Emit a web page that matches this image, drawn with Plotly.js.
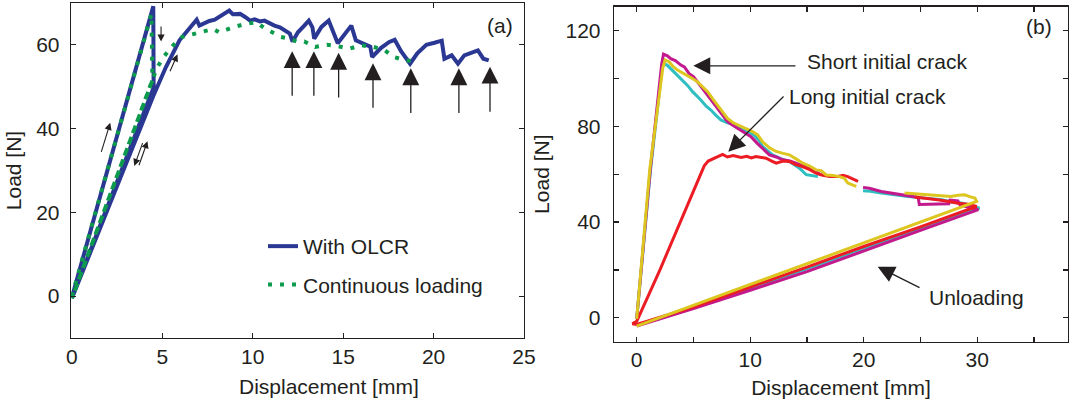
<!DOCTYPE html>
<html>
<head>
<meta charset="utf-8">
<script src="https://cdn.plot.ly/plotly-3.0.1.min.js"></script>
<style>html,body{margin:0;padding:0;background:#fff;}#chart{width:1069px;height:405px;}</style>
</head>
<body>
<div id="chart"></div>
<script>
// ---------- Panel (a) ----------
const olcrX = [0, 4.5, 4.52, 0.0, 4.5, 4.7, 5.2, 5.95, 6.5, 6.9, 7.05, 7.6, 7.9, 8.3, 8.7, 8.9, 9.3, 9.6, 9.85, 10.1, 10.4, 10.65, 10.95, 11.2, 11.5, 11.85, 12.05, 12.2, 12.5, 12.85, 13.1, 13.3, 13.4, 13.8, 14.2, 14.7, 15.1, 15.45, 15.7, 16.2, 16.5, 16.6, 17.1, 17.55, 17.85, 18.2, 18.7, 19.1, 19.6, 20.05, 20.45, 20.6, 21.0, 21.35, 21.7, 22.45, 22.75, 23.05];
const olcrY = [-0.3, 69.2, 49.8, -0.5, 47.8, 49.8, 54.7, 61.1, 63.9, 66, 64.6, 65.7, 66, 67, 68.2, 67.3, 67.4, 66.6, 65.8, 66.1, 65.6, 65.8, 65, 64.6, 64.2, 63.2, 62.7, 60.8, 63, 64.6, 65.8, 64.2, 61.5, 64.3, 65.8, 60.4, 62.8, 64.6, 61.1, 60.3, 59.6, 57.1, 59.3, 60.7, 61.2, 58.5, 55.5, 58, 60, 60.5, 61, 56.7, 57.5, 55.5, 57.5, 58.7, 56.7, 56.3];
const contX = [0, 4.4, 4.45, 0.0, 4.45, 4.7, 5.1, 5.6, 6.1, 7.0, 7.8, 8.15, 8.9, 9.6, 10.2, 10.65, 11.1, 11.55, 12.0, 12.5, 12.85, 13.45, 14.1, 14.7, 15.35, 16.0, 16.7, 17.3, 17.8, 18.45, 19.1];
const contY = [0, 67.4, 51.5, -0.5, 51, 54.5, 57.3, 59.9, 61.9, 63, 63.8, 63, 64.2, 65, 65.4, 64, 63, 61.9, 61.5, 60.7, 60.8, 59.5, 60, 59.7, 59.1, 59.9, 59.5, 58.7, 57.1, 56.3, 56.1];
// crack-growth arrows (a): x position, arrow tip load, arrow tail load
const crackArrowX = [12.18, 13.38, 14.75, 16.65, 18.74, 21.4, 23.12];
const crackArrowTip = [58.5, 58.5, 58.1, 55.6, 54.4, 54.4, 54.8];
const crackArrowTail = [47.5, 47.5, 47.1, 44.6, 43.4, 43.4, 43.7];
// small load-path arrows (a): [tailX, tailY, headX, headY]
const pathArrows = [[1.6, 34.1, 2.12, 41.4], [3.94, 36.9, 3.45, 31.1], [3.68, 30.9, 4.18, 37.0], [4.93, 64.75, 4.93, 60.8], [5.39, 53.35, 5.84, 57.75]];

// ---------- Panel (b) ----------
const magX = [0, 0.9, 1.2, 2.2, 2.36, 2.7, 3.0, 3.4, 3.89, 4.2, 4.62, 5.0, 5.36, 5.8, 6.25, 6.7, 7.13, 7.6, 8.01, 8.5, 8.9, 9.5, 10.07, 10.6, 11.2, 11.69, 12.3, 12.87, 13.5, 14.05, 14.5, 15.2, 15.7, 16.25, null, 19.94, 20.5, 21.55, 22.4, 23.3, 24.2, 24.8, 24.9, 26.2, 27.5, 27.6, 28.3, 28.5, 29.3, 30.1, 25, 20, 15, 10, 5, 0];
const magY = [-0.5, 48, 62, 106, 110.2, 109.5, 108.3, 107.5, 105.6, 104.8, 102, 100.8, 98.6, 96, 93.1, 90.5, 87.5, 84.5, 82, 80.3, 79.2, 77.5, 75.7, 73, 70.5, 68.1, 67.2, 66, 65.5, 64.6, 63.9, 62.5, 61.2, 59.7, null, 54.5, 54.1, 52.8, 52.1, 51.5, 50.7, 50.3, 47.3, 47.5, 47.6, 49.2, 48.8, 47, 46.2, 45.2, 36.5, 28, 19.3, 11.5, 3.8, -3.5];
const cyanX = [0, 0.9, 1.2, 2.2, 2.36, 2.7, 3.3, 3.7, 4.18, 4.5, 4.92, 5.3, 5.65, 6.1, 6.54, 7.0, 7.42, 8.0, 8.6, 9.2, 9.78, 10.3, 10.8, 11.1, 12.0, 12.7, 13.45, 14.0, 14.34, 14.93, 15.4, 15.96, null, 19.94, 20.6, 21.55, 22.7, 23.9, 25.4, 26.9, 27.8, 28.6, 29.4, 30.2, 25, 20, 15, 10, 5, 0];
const cyanY = [-0.5, 47, 61, 103, 106.3, 105.5, 102.8, 101, 98.6, 97, 94.5, 92.8, 91, 88.5, 86.8, 84.5, 82.7, 81.5, 80.6, 79, 77.8, 76.5, 74, 71.5, 68, 66.5, 65.3, 63.5, 62.5, 59.8, 59.5, 59, null, 53.1, 52.9, 52.1, 51.3, 50.7, 50, 49.3, 48.3, 48, 47, 45.8, 37, 29, 20.5, 12.3, 4.2, -3.3];
const redX = [-0.4, 0, 2, 4.62, 5.5, 5.95, 6.3, 6.83, 7.2, 7.57, 8.0, 8.5, 9.2, 9.7, 10.1, 10.5, 11.0, 11.4, 11.9, 12.3, 12.9, 13.45, 14.0, 14.6, 15.2, 15.8, 16.4, 17.0, 17.7, 18.2, 18.6, 19.0, 19.5, null, 24.5, 25.5, 26.5, 27.5, 28.3, 29.2, 29.95, 25, 20, 15, 10, 5, 0, -0.4];
const redY = [-2.5, -1.5, 19.5, 48.6, 58, 63.5, 65.5, 66.7, 67.5, 68.3, 67.2, 67.8, 67, 67.5, 66.8, 67.4, 67, 66.7, 65.5, 64.6, 65.5, 65.3, 64, 63.2, 62, 60.4, 59.5, 59, 59, 59.5, 59, 58, 57, null, 50.5, 50, 49.3, 48.6, 47.9, 47.5, 46.5, 38, 29.8, 21.2, 12.8, 4.5, -2.8, -2.5];
const yelX = [0, 0.85, 1.15, 2.3, 2.5, 2.85, 3.2, 3.6, 4.0, 4.48, 4.9, 5.36, 5.8, 6.25, 6.7, 7.13, 7.6, 8.0, 8.5, 8.9, 9.3, 9.78, 10.2, 10.66, 11.1, 11.7, 12.28, 12.9, 13.45, 14.0, 14.64, 15.2, 15.8, 16.25, 16.7, 17.3, 17.87, 18.3, 18.6, 19.0, 19.35, null, 23.6, 24.6, 25.7, 26.7, 27.7, 28.3, 28.9, 29.4, 29.8, 29.95, 25, 20, 15, 10, 5, 0];
const yelY = [-0.5, 48, 62, 104.5, 107.7, 107, 105, 103.5, 102.5, 101.4, 100, 98.6, 96.5, 94.5, 91.5, 88.9, 86, 83.3, 81.5, 80.6, 79.5, 78.5, 77.8, 76.4, 73.5, 71, 69.5, 68.7, 68.1, 66.5, 64.6, 63.5, 61.8, 61.5, 59.7, 59.5, 59, 58.3, 56.3, 55.5, 54.9, null, 52.1, 51.8, 51.4, 51, 50.7, 51.2, 51.4, 50.5, 50, 48.6, 40, 31.2, 22.5, 13.8, 5.2, -3.5];

const xTicksA = [0, 5, 10, 15, 20, 25];
const yTicksA = [0, 20, 40, 60];
const xTicksB = [0, 5, 10, 15, 20, 25, 30, 35];
const xTickTextB = ['0', '', '10', '', '20', '', '30', ''];
const yTicksB = [0, 20, 40, 60, 80, 100, 120];
const yTickTextB = ['0', '', '40', '', '80', '', '120'];

const FONT = 'Liberation Sans, Arial, Helvetica, sans-serif';
const INK = '#231f20';
const W = 1069, H = 405;

const traces = [
  {x: olcrX, y: olcrY, type: 'scatter', mode: 'lines', name: 'With OLCR', xaxis: 'x', yaxis: 'y',
   line: {color: '#2b3893', width: 4}, legendgroup: 'g1'},
  {x: contX, y: contY, type: 'scatter', mode: 'lines', name: 'Continuous loading', xaxis: 'x', yaxis: 'y',
   line: {color: '#0c9a4c', width: 4, dash: '4px,8px'}, legendgroup: 'g2'},
  {x: cyanX, y: cyanY, type: 'scatter', mode: 'lines', xaxis: 'x2', yaxis: 'y2', showlegend: false,
   line: {color: '#2fbec2', width: 3}},
  {x: magX, y: magY, type: 'scatter', mode: 'lines', xaxis: 'x2', yaxis: 'y2', showlegend: false,
   line: {color: '#c2198d', width: 3}},
  {x: redX, y: redY, type: 'scatter', mode: 'lines', xaxis: 'x2', yaxis: 'y2', showlegend: false,
   line: {color: '#ec1c24', width: 3}},
  {x: yelX, y: yelY, type: 'scatter', mode: 'lines', xaxis: 'x2', yaxis: 'y2', showlegend: false,
   line: {color: '#dcc61f', width: 3}}
];

const axisCommon = {
  showgrid: false, zeroline: false, showline: true, linecolor: INK, linewidth: 1.3,
  mirror: 'ticks', ticks: 'inside', ticklen: 5, tickwidth: 1.2, tickcolor: INK,
  tickfont: {family: FONT, size: 21, color: INK}, automargin: false
};

const annotations = [];
crackArrowX.forEach((x, i) => {
  annotations.push({xref: 'x', yref: 'y', axref: 'x', ayref: 'y', x: x, y: crackArrowTip[i], ax: x, ay: crackArrowTail[i],
    text: '', showarrow: true, arrowhead: 2, arrowsize: 2.6, arrowwidth: 1.3, arrowcolor: INK});
});
pathArrows.forEach(a => {
  annotations.push({xref: 'x', yref: 'y', axref: 'x', ayref: 'y', x: a[2], y: a[3], ax: a[0], ay: a[1],
    text: '', showarrow: true, arrowhead: 2, arrowsize: 1.3, arrowwidth: 1.1, arrowcolor: INK});
});
annotations.push({xref: 'x', yref: 'y', x: 23.7, y: 64.7, text: '(a)', showarrow: false, font: {family: FONT, size: 21, color: INK}});
annotations.push({xref: 'x2', yref: 'y2', x: 35.45, y: 121.6, text: '(b)', showarrow: false, font: {family: FONT, size: 21, color: INK}});
// left panel x-axis title (sits right of the axis centre in the original)
annotations.push({xref: 'paper', yref: 'paper', x: 329 / W, y: 1 - 386 / H, xanchor: 'center', yanchor: 'middle',
  text: 'Displacement [mm]', showarrow: false, font: {family: FONT, size: 21, color: INK}});
// panel (b) labelled arrows
const labelsB = [
  {text: 'Short initial crack', tx: 22.05, ty: 107.1, tail: [14.12, 105.3], head: [4.99, 105.3]},
  {text: 'Long initial crack', tx: 20.3, ty: 92.6, tail: [13.07, 93.1], head: [8.07, 69.4]},
  {text: 'Unloading', tx: 29.9, ty: 8.3, tail: [25.05, 12.3], head: [21.23, 21.35]}
];
labelsB.forEach(l => {
  annotations.push({xref: 'x2', yref: 'y2', x: l.tx, y: l.ty, text: l.text, showarrow: false, font: {family: FONT, size: 21, color: INK}});
  annotations.push({xref: 'x2', yref: 'y2', axref: 'x2', ayref: 'y2', x: l.head[0], y: l.head[1], ax: l.tail[0], ay: l.tail[1],
    text: '', showarrow: true, arrowhead: 2, arrowsize: 2.6, arrowwidth: 1.3, arrowcolor: INK});
});

const layout = {
  width: W, height: H, margin: {l: 0, r: 0, t: 0, b: 0},
  paper_bgcolor: '#ffffff', plot_bgcolor: '#ffffff',
  font: {family: FONT, size: 21, color: INK},
  showlegend: true,
  legend: {x: 263 / W, y: 1 - 226 / H, xanchor: 'left', yanchor: 'top', bgcolor: 'rgba(0,0,0,0)',
           font: {family: FONT, size: 21, color: INK}, tracegroupgap: 8, traceorder: 'grouped'},
  xaxis: Object.assign({}, axisCommon, {domain: [71 / W, 524 / W], range: [-0.05, 25], tickvals: xTicksA, anchor: 'y',
    ticklabelstandoff: -1}),
  yaxis: Object.assign({}, axisCommon, {domain: [1 - 338 / H, 1 - 3 / H], range: [-10, 70], tickvals: yTicksA, anchor: 'x',
    ticklabelstandoff: 6,
    title: {text: 'Load [N]', font: {family: FONT, size: 21, color: INK}, standoff: 8}}),
  xaxis2: Object.assign({}, axisCommon, {domain: [614 / W, 1068 / W], range: [-2, 38], tickvals: xTicksB, ticktext: xTickTextB, anchor: 'y2',
    ticklabelstandoff: -1,
    title: {text: 'Displacement [mm]', font: {family: FONT, size: 21, color: INK}, standoff: 10}}),
  yaxis2: Object.assign({}, axisCommon, {domain: [1 - 341.7 / H, 1 - 6.7 / H], range: [-10, 130], tickvals: yTicksB, ticktext: yTickTextB, anchor: 'x2',
    ticklabelstandoff: 8,
    title: {text: 'Load [N]', font: {family: FONT, size: 21, color: INK}, standoff: 10}}),
  annotations: annotations
};

Plotly.newPlot('chart', traces, layout, {displayModeBar: false, staticPlot: true});
</script>
</body>
</html>
